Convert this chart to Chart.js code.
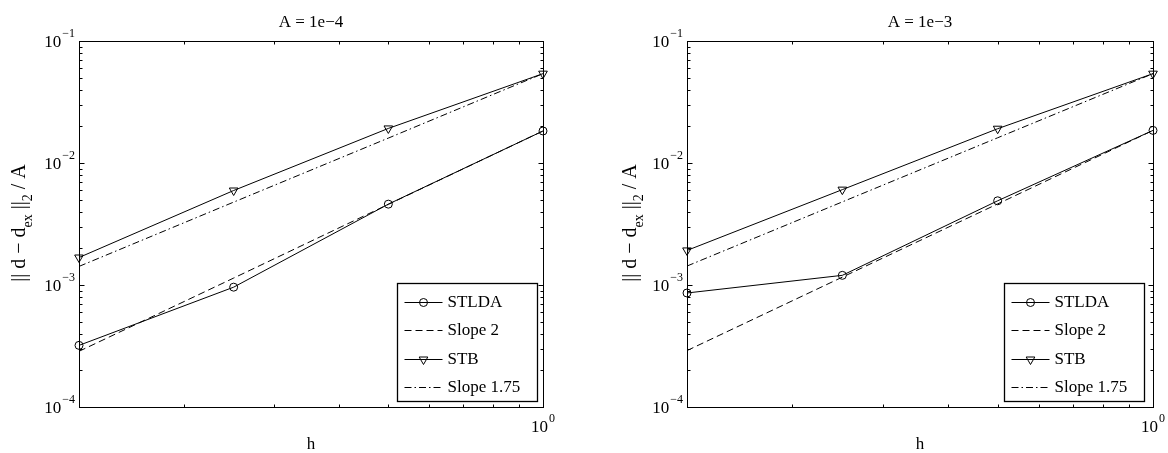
<!DOCTYPE html>
<html>
<head>
<meta charset="utf-8">
<script src="https://cdn.jsdelivr.net/npm/chart.js@4.4.1/dist/chart.umd.min.js"></script>
<style>
    html, body { margin: 0; padding: 0; background: #fff; }
    .panel { position: absolute; top: 0; width: 584px; height: 453px; }
</style>
</head>
<body>
<div class="panel" style="left:0"><canvas id="chartA4" width="584" height="453"></canvas></div>
<div class="panel" style="left:584px"><canvas id="chartA3" width="584" height="453"></canvas></div>
<script>
// DATA
const hValues = [0.125, 0.25, 0.5, 1];

// A = 1e-4
const stldaA4    = [3.2e-4, 9.6e-4, 4.6e-3, 1.83e-2];
const slope2A4   = [2.86e-4, 1.14e-3, 4.58e-3, 1.83e-2];
const stbA4      = [1.68e-3, 5.95e-3, 1.92e-2, 5.4e-2];
const slope175A4 = [1.42e-3, 4.78e-3, 1.6e-2, 5.4e-2];

// A = 1e-3
const stldaA3    = [8.6e-4, 1.2e-3, 4.9e-3, 1.85e-2];
const slope2A3   = [2.9e-4, 1.16e-3, 4.62e-3, 1.85e-2];
const stbA3      = [1.92e-3, 6.05e-3, 1.91e-2, 5.4e-2];
const slope175A3 = [1.43e-3, 4.8e-3, 1.61e-2, 5.4e-2];

// ticks
const yTicks = [1e-4, 1e-3, 1e-2, 1e-1];
const yTickLabels = ['10^−4', '10^−3', '10^−2', '10^−1'];
const yMinorSteps = [2, 3, 4, 5, 6, 7, 8, 9];
const xTicks = [1];
const xTickLabels = ['10^0'];
const xMinorTicks = [0.2, 0.3, 0.4, 0.5, 0.6, 0.7, 0.8, 0.9];

const FONT = '"Liberation Serif", "Times New Roman", serif';

function drawPower(ctx, label, x, y, align) {
    const [base, exp] = label.split('^');
    ctx.font = '17px ' + FONT;
    const bw = ctx.measureText(base).width;
    ctx.font = '12px ' + FONT;
    const ew = ctx.measureText(exp).width;
    let x0 = align === 'right' ? x - bw - ew - 1 : x - bw / 2;
    ctx.textAlign = 'left';
    ctx.textBaseline = 'middle';
    ctx.font = '17px ' + FONT;
    ctx.fillText(base, x0, y + 2);
    ctx.font = '12px ' + FONT;
    ctx.fillText(exp, x0 + bw + 1, y - 7);
}

// MATLAB-style axes, labels and legend
const matlabAxes = {
    id: 'matlabAxes',
    afterDatasetsDraw(chart, args, opts) {
        const ctx = chart.ctx;
        const a = chart.chartArea;
        const xs = chart.scales.x, ys = chart.scales.y;
        ctx.save();
        ctx.strokeStyle = '#000';
        ctx.fillStyle = '#000';
        ctx.lineWidth = 1;
        ctx.setLineDash([]);

        const L = Math.round(a.left) + 0.5, R = Math.round(a.right) + 0.5;
        const T = Math.round(a.top) + 0.5, B = Math.round(a.bottom) + 0.5;
        ctx.strokeRect(L, T, R - L, B - T);

        ctx.beginPath();
        // y ticks
        yTicks.forEach((v, i) => {
            const py = Math.round(ys.getPixelForValue(v)) + 0.5;
            ctx.moveTo(L, py); ctx.lineTo(L + 5, py);
            ctx.moveTo(R, py); ctx.lineTo(R - 5, py);
            if (i < yTicks.length - 1) {
                yMinorSteps.forEach(k => {
                    const my = Math.round(ys.getPixelForValue(v * k)) + 0.5;
                    ctx.moveTo(L, my); ctx.lineTo(L + 3, my);
                    ctx.moveTo(R, my); ctx.lineTo(R - 3, my);
                });
            }
        });
        // x ticks
        xMinorTicks.forEach(v => {
            const px = Math.round(xs.getPixelForValue(v)) + 0.5;
            ctx.moveTo(px, T); ctx.lineTo(px, T + 3);
            ctx.moveTo(px, B); ctx.lineTo(px, B - 3);
        });
        ctx.stroke();

        // tick labels
        yTicks.forEach((v, i) => {
            drawPower(ctx, yTickLabels[i], a.left - 4, ys.getPixelForValue(v), 'right');
        });
        xTicks.forEach((v, i) => {
            drawPower(ctx, xTickLabels[i], xs.getPixelForValue(v) - 3.5, a.bottom + 19, 'center');
        });

        const cx = (a.left + a.right) / 2;
        ctx.font = '17px ' + FONT;
        ctx.textAlign = 'center';
        ctx.textBaseline = 'middle';
        ctx.fillText(opts.title, cx, 23);
        ctx.fillText('h', cx, 445);

        // y label
        const parts = [
            ['|| d − d', false], ['ex', true], [' ||', false], ['2', true], [' / A', false]
        ];
        let total = 0;
        parts.forEach(p => {
            ctx.font = (p[1] ? '14px ' : '20px ') + FONT;
            total += ctx.measureText(p[0]).width;
        });
        ctx.save();
        ctx.translate(a.left - opts.ylabelGap, (a.top + a.bottom) / 2 - 1);
        ctx.rotate(-Math.PI / 2);
        ctx.textAlign = 'left';
        ctx.textBaseline = 'middle';
        let tx = -total / 2;
        parts.forEach(p => {
            ctx.font = (p[1] ? '14px ' : '20px ') + FONT;
            ctx.fillText(p[0], tx, p[1] ? 8 : 0);
            tx += ctx.measureText(p[0]).width;
        });
        ctx.restore();

        // legend
        const bw = 140, bh = 118;
        const bx = Math.round(a.right - opts.legendGap - bw) + 0.5, by = 283.5;
        ctx.fillStyle = '#fff';
        ctx.fillRect(bx, by, bw, bh);
        ctx.lineWidth = 1.3;
        ctx.strokeRect(bx, by, bw, bh);
        ctx.lineWidth = 1;
        chart.data.datasets.forEach((ds, i) => {
            const ry = Math.round(by + 18 + i * 28.5) + 0.5;
            ctx.setLineDash(ds.borderDash || []);
            ctx.beginPath();
            ctx.moveTo(bx + 7, ry); ctx.lineTo(bx + 45, ry);
            ctx.stroke();
            ctx.setLineDash([]);
            if (ds.pointRadius > 0) {
                ctx.fillStyle = 'rgba(0,0,0,0)';
                Chart.helpers.drawPoint(ctx, {
                    pointStyle: ds.pointStyle,
                    rotation: ds.pointRotation || 0,
                    radius: ds.pointRadius,
                    borderWidth: 1
                }, bx + 26, ry);
            }
            ctx.fillStyle = '#000';
            ctx.font = '17px ' + FONT;
            ctx.textAlign = 'left';
            ctx.textBaseline = 'middle';
            ctx.fillText(ds.label, bx + 50, ry);
        });
        ctx.restore();
    }
};

function series(label, values, style) {
    return Object.assign({
        label: label,
        data: hValues.map((h, i) => ({ x: h, y: values[i] })),
        borderColor: '#000',
        borderWidth: 1,
        pointRadius: 0,
        pointBorderColor: '#000',
        pointBackgroundColor: 'rgba(0,0,0,0)',
        pointBorderWidth: 1,
        tension: 0,
        clip: false
    }, style);
}

function makeChart(id, title, padding, gaps, stlda, slope2, stb, slope175) {
    return new Chart(document.getElementById(id), {
        type: 'line',
        data: {
            datasets: [
                series('STLDA', stlda, { pointStyle: 'circle', pointRadius: 4 }),
                series('Slope 2', slope2, { borderDash: [7, 4] }),
                series('STB', stb, { pointStyle: 'triangle', pointRotation: 180, pointRadius: 5 }),
                series('Slope 1.75', slope175, { borderDash: [7, 3, 1.5, 3] })
            ]
        },
        options: {
            responsive: false,
            animation: false,
            devicePixelRatio: 1,
            layout: { padding: padding },
            scales: {
                x: { type: 'logarithmic', min: 0.125, max: 1, display: false },
                y: { type: 'logarithmic', min: 1e-4, max: 1e-1, display: false }
            },
            plugins: {
                legend: { display: false },
                tooltip: { enabled: false },
                matlabAxes: { title: title, ylabelGap: gaps[0], legendGap: gaps[1] }
            }
        },
        plugins: [matlabAxes]
    });
}

makeChart('chartA4', 'A = 1e−4', { left: 79, right: 41, top: 41, bottom: 46 }, [59, 6],
    stldaA4, slope2A4, stbA4, slope175A4);
makeChart('chartA3', 'A = 1e−3', { left: 103, right: 15, top: 41, bottom: 46 }, [56, 9],
    stldaA3, slope2A3, stbA3, slope175A3);
</script>
</body>
</html>
